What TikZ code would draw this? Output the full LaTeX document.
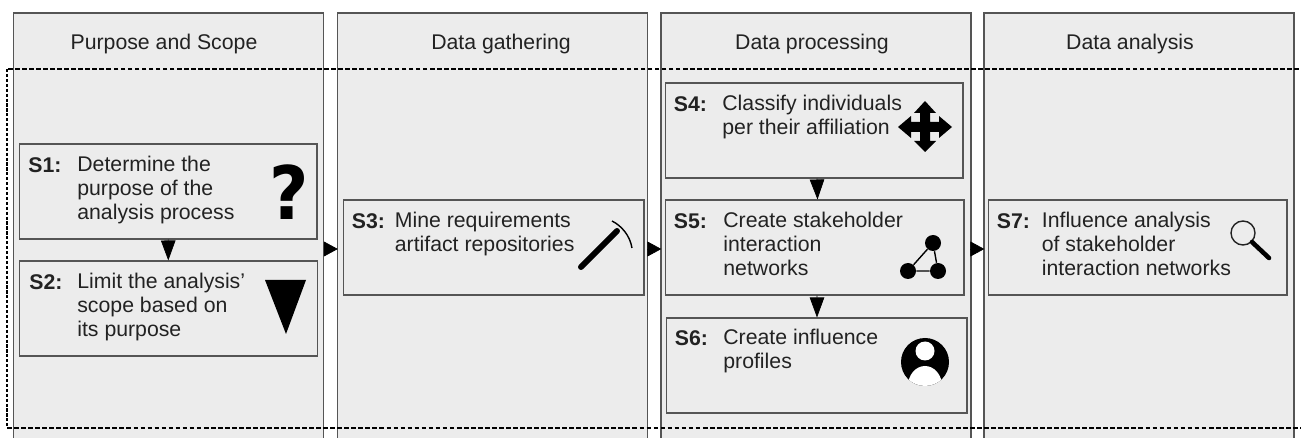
\documentclass[tikz,border=0pt]{standalone}
\usepackage{fontspec}
\setmainfont{Liberation Sans}
\newfontfamily\markfont{DejaVu Sans}
\usetikzlibrary{arrows.meta}
\definecolor{panel}{HTML}{ECECEC}
\definecolor{edge_gray}{HTML}{555555}
\definecolor{ink}{HTML}{222222}

\begin{document}
\begin{tikzpicture}[x=0.02cm,y=-0.02cm,
	col_node/.style={rectangle,draw=edge_gray,fill=panel,line width=0.7pt,minimum width=6.2cm,minimum height=9.44cm,inner sep=0pt},
	step_node/.style={rectangle,draw=edge_gray,line width=0.6pt,minimum width=5.96cm,minimum height=1.9cm,inner sep=0pt},
	head_node/.style={font=\fontsize{12.1}{13.6}\selectfont,text=ink,inner sep=0pt},
	tag_node/.style={anchor=base west,font=\fontsize{12.1}{13.6}\selectfont\bfseries,text=ink,inner sep=0pt},
	txt_node/.style={anchor=north west,align=left,font=\fontsize{12.1}{13.5}\selectfont,text=ink,inner sep=0pt},
	flow/.style={-{Triangle[length=0.28cm,width=0.3cm]},black,line width=0.4pt,shorten >=-0.5pt},
	flow_down/.style={-{Triangle[length=0.4cm,width=0.29cm]},black,line width=0.4pt},
	dash_line/.style={black,line width=1.3pt,dash pattern=on 2.7pt off 1.3pt}]
	\useasboundingbox (0,0) rectangle (1301,438);
	\clip (0,0) rectangle (1301,438);

	% columns
	\node[col_node] (col1) at (168.5,249) {};
	\node[col_node] (col2) at (492.5,249) {};
	\node[col_node] (col3) at (816,249) {};
	\node[col_node] (col4) at (1139,249) {};

	\node[head_node] (h1) at (164,44) {Purpose and Scope};
	\node[head_node] (h2) at (501,44) {Data gathering};
	\node[head_node] (h3) at (812,44) {Data processing};
	\node[head_node] (h4) at (1130,44) {Data analysis};

	\draw[flow] (col1) -- (col2);
	\draw[flow] (col2) -- (col3);
	\draw[flow] (col3) -- (col4);

	% dashed frame
	\draw[dash_line] (1320,69) -- (7,69);
	\draw[dash_line] (7,428) -- (1320,428);
	\draw[black,line width=1.4pt,dash pattern=on 1.8pt off 1pt] (7,69) -- (7,428);

	% steps
	\node[step_node] (s1) at (168,191.5) {};
	\node[step_node] (s2) at (168.5,308.5) {};
	\node[step_node,minimum width=6.02cm] (s3) at (493.5,247.5) {};
	\node[step_node] (s4) at (814,130.5) {};
	\node[step_node,minimum width=5.98cm] (s5) at (814.5,247.5) {};
	\node[step_node,minimum width=6.02cm] (s6) at (816.5,365.5) {};
	\node[step_node,minimum width=5.98cm] (s7) at (1137.5,247.5) {};

	\draw[flow_down] (s1) -- (s2);
	\draw[flow_down] ([xshift=0.06cm]s4.south) -- ([xshift=0.06cm]s5.north);
	\draw[flow_down] ([xshift=0.05cm]s5.south) -- ([xshift=0.01cm]s6.north);

	% labels
	\node[tag_node] (t1) at (28,173) {S1:};
	\node[tag_node] (t2) at (29,290) {S2:};
	\node[tag_node] (t3) at (351.5,229) {S3:};
	\node[tag_node] (t4) at (673.5,112) {S4:};
	\node[tag_node] (t5) at (673.5,229) {S5:};
	\node[tag_node] (t6) at (674.5,346) {S6:};
	\node[tag_node] (t7) at (996.5,229) {S7:};

	\node[txt_node] (x1) at (77,156) {Determine the\\purpose of the\\analysis process};
	\node[txt_node] (x2) at (77,273) {Limit the analysis'\\scope based on\\its purpose};
	\node[txt_node] (x3) at (394.5,212) {Mine requirements\\artifact repositories};
	\node[txt_node] (x4) at (722,95) {Classify individuals\\per their affiliation};
	\node[txt_node] (x5) at (723,212) {Create stakeholder\\interaction\\networks};
	\node[txt_node] (x6) at (723,329) {Create influence\\profiles};
	\node[txt_node] (x7) at (1041.5,212) {Influence analysis\\of stakeholder\\interaction networks};

	% icons
	\node[inner sep=0pt,xscale=0.92,font=\fontsize{42}{42}\markfont\bfseries] (q1) at (289.5,192) {?};
	\fill (265,280) -- (306,280) -- (286,334) -- cycle;
	% move icon
	\fill (925,101) -- (936,113) -- (930,113) -- (930,122) -- (939,122) -- (939,116) -- (952,127) -- (939,138) -- (939,132) -- (930,132) -- (930,141) -- (936,141) -- (925,152) -- (914,141) -- (920,141) -- (920,132) -- (911,132) -- (911,138) -- (898,127) -- (911,116) -- (911,122) -- (920,122) -- (920,113) -- (914,113) -- cycle;
	% pick
	\draw[line width=3.4pt,line cap=round] (581,267) -- (617,231);
	\draw[line width=0.8pt] (612,221) .. controls (622,226) and (630,236) .. (632,248);
	% network
	\node[circle,fill=black,minimum size=0.32cm,inner sep=0pt] (n1) at (933,243) {};
	\node[circle,fill=black,minimum size=0.32cm,inner sep=0pt] (n2) at (908,271) {};
	\node[circle,fill=black,minimum size=0.32cm,inner sep=0pt] (n3) at (938,271) {};
	\draw[line width=0.8pt] (n1) -- (n2) -- (n3) -- (n1);
	% person
	\begin{scope}
		\fill (925,362) circle [radius=24];
		\clip (925,362) circle [radius=24];
		\fill[white] (925,351) circle [radius=9.5];
		\fill[white] (925,386) ellipse [x radius=17,y radius=20];
	\end{scope}
	% lens
	\draw[line width=0.8pt,draw=ink] (1243,233) circle [radius=12];
	\draw[line width=2.6pt,line cap=round] (1252,242) -- (1269,258);
\end{tikzpicture}
\end{document}
